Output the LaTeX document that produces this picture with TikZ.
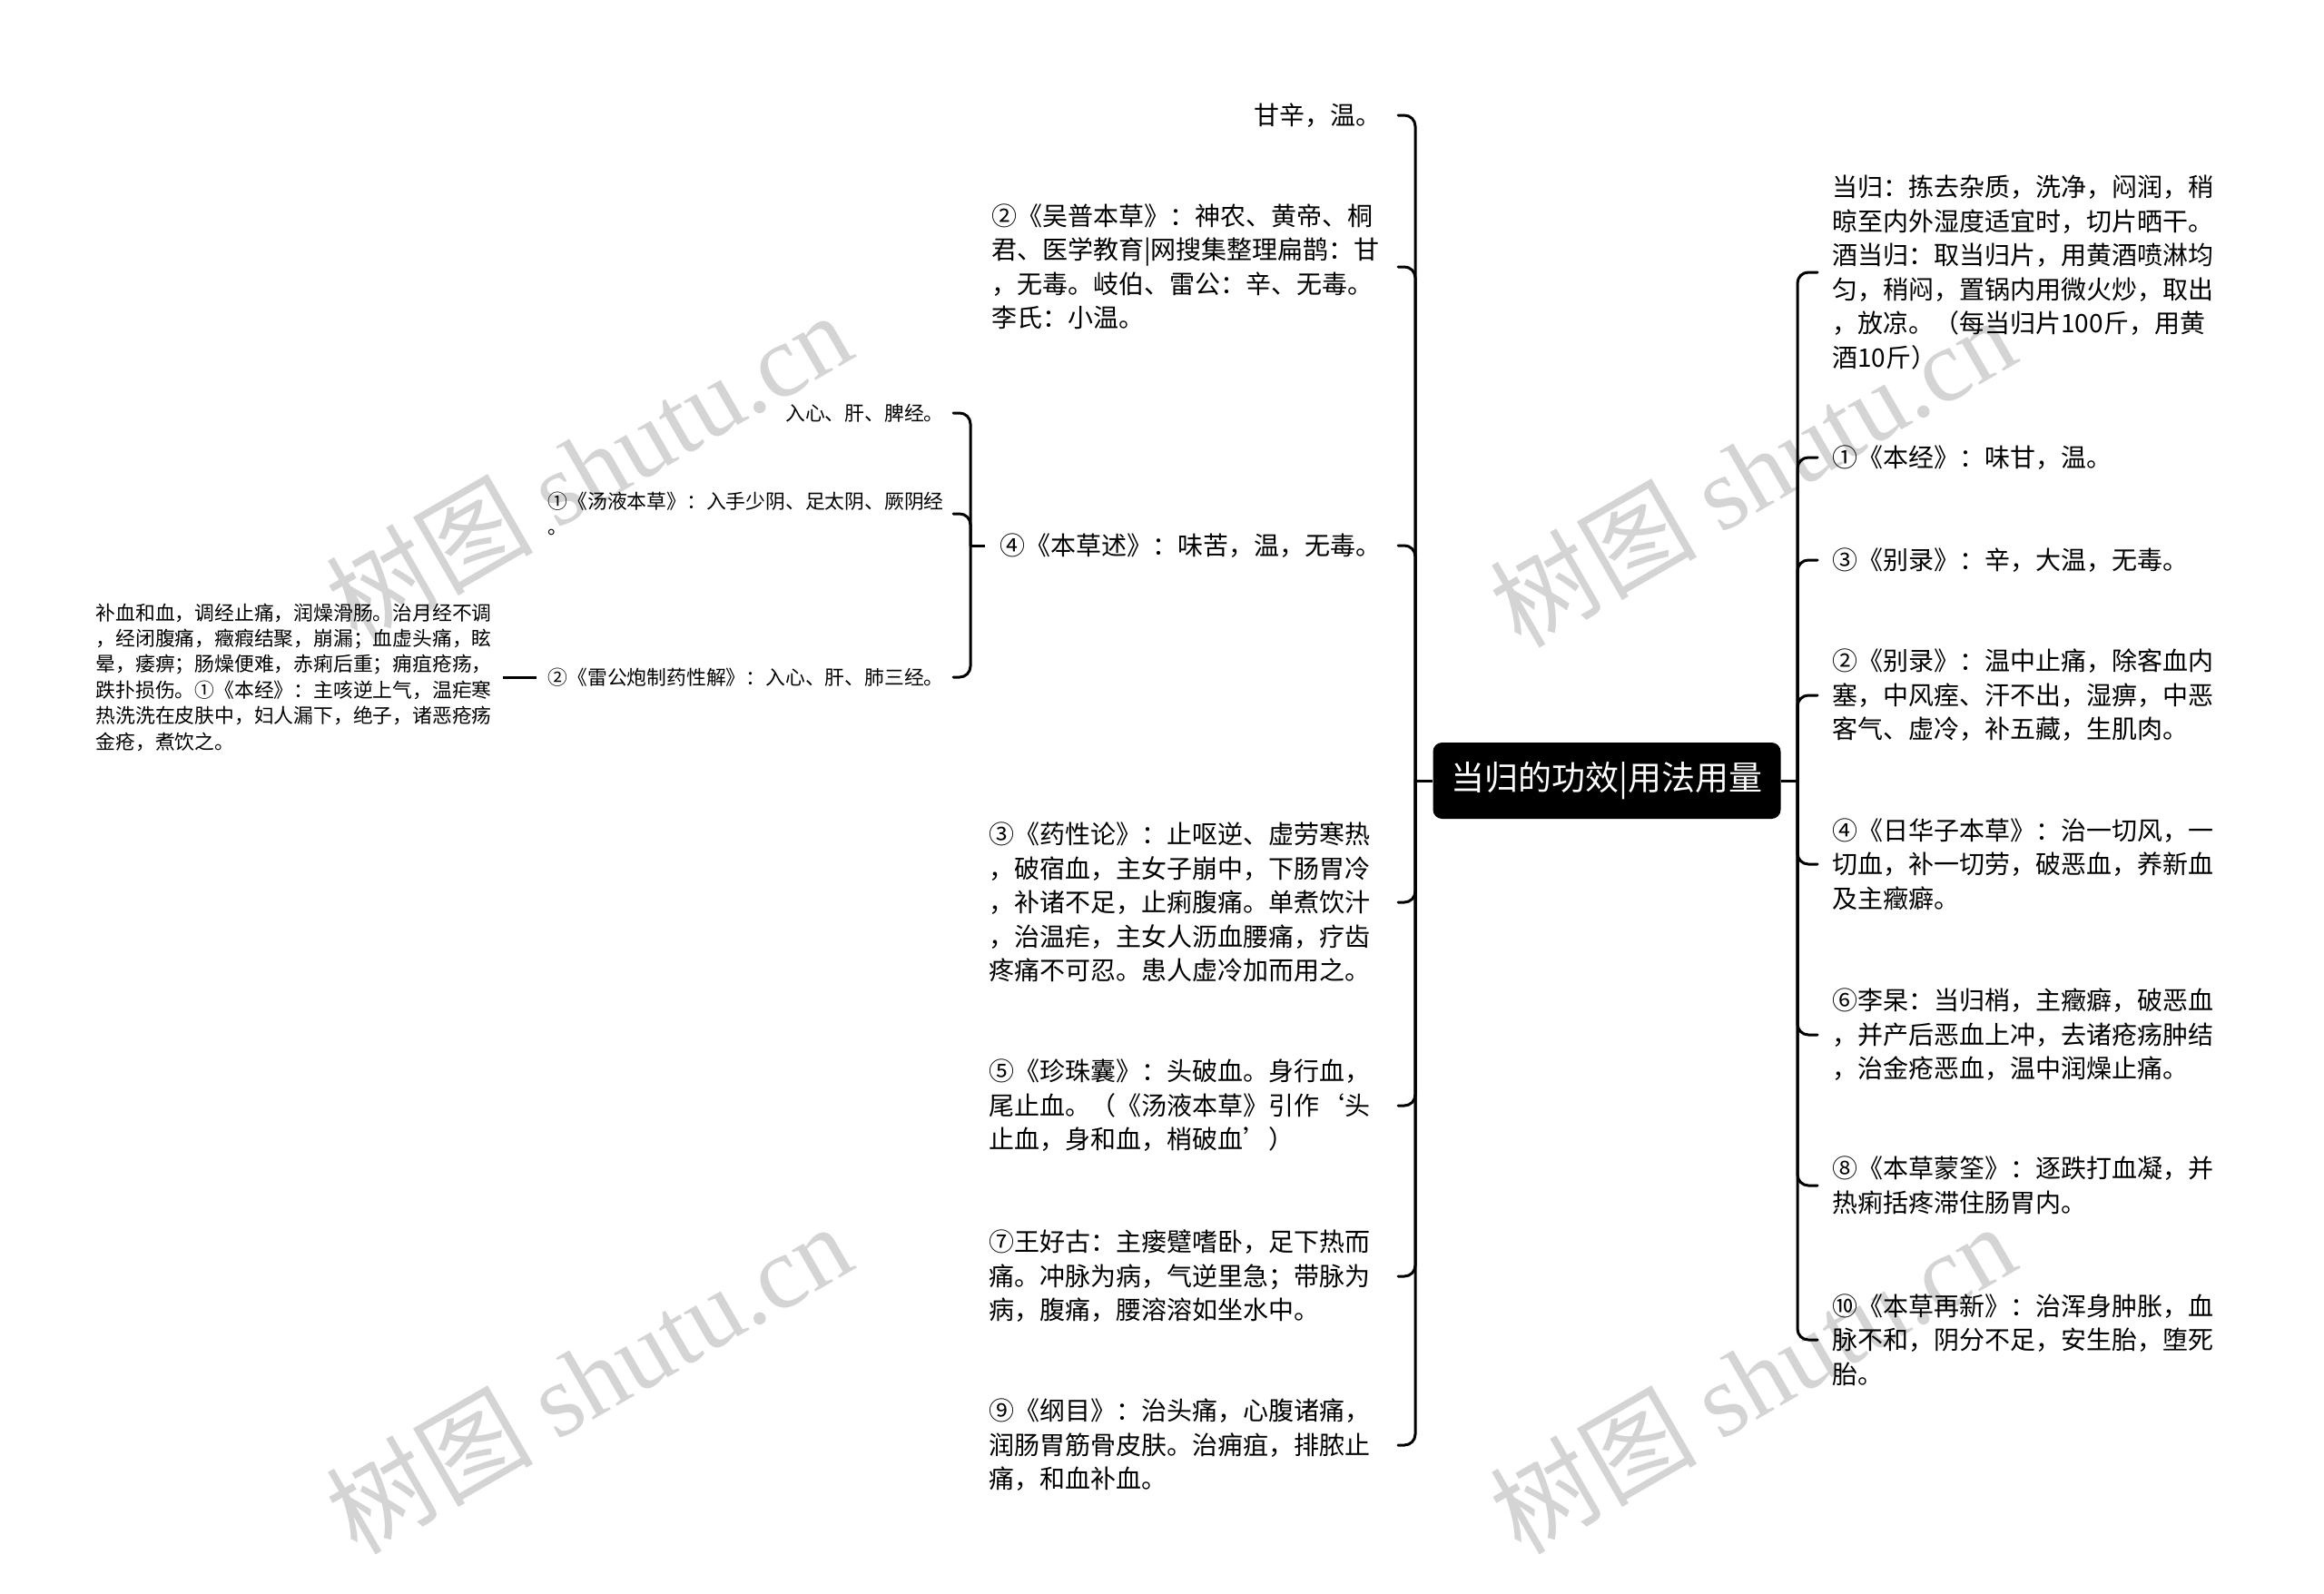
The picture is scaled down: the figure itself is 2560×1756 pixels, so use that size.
\documentclass[tikz,border=0pt]{standalone}
\usepackage{fontspec}
\setmainfont{Noto Sans CJK SC}
\newfontfamily\wmserif{Liberation Serif}
\newfontfamily\wmcjk{Noto Sans CJK SC}
\begin{document}
\begin{tikzpicture}[x=0.5pt,y=-0.5pt]
\tikzset{
  conn/.style={line width=1.5pt, rounded corners=6pt, line cap=round},
  straight/.style={line width=1.5pt},
  txtR/.style={anchor=west, inner sep=0pt, align=left, font=\fontsize{14pt}{18.75pt}\selectfont},
  txtM/.style={anchor=east, inner sep=0pt, align=left, font=\fontsize{14pt}{18.75pt}\selectfont},
  txtS/.style={anchor=east, inner sep=0pt, align=left, font=\fontsize{10.9pt}{14.2pt}\selectfont},
  rootbox/.style={fill=black, text=white, rounded corners=5pt, minimum width=191.5pt, minimum height=42pt, inner sep=0pt, font=\fontsize{18.5pt}{22pt}\selectfont},
  wm/.style={text=black!17, inner sep=0pt, rotate=30, font=\fontsize{57pt}{57pt}\selectfont}
}
\fill[white] (0,0) rectangle (2560,1756);
\useasboundingbox (0,0) rectangle (2560,1756);

% watermarks
\node[wm] (w1) at (648,514) {{\wmcjk 树图} {\wmserif shutu.cn}};
\node[wm] (w2) at (1930,519) {{\wmcjk 树图} {\wmserif shutu.cn}};
\node[wm] (w3) at (648,1518) {{\wmcjk 树图} {\wmserif shutu.cn}};
\node[wm] (w4) at (1930,1518) {{\wmcjk 树图} {\wmserif shutu.cn}};

% root
\node[rootbox] (c) at (1770,860) {当归的功效|用法用量};
\coordinate (rb) at (1980,860);
\coordinate (lb) at (1559,860);
\coordinate (ms) at (1540,0);

% right column
\node[txtR] (R1) at (2018,300) {当归：拣去杂质，洗净，闷润，稍\\晾至内外湿度适宜时，切片晒干。\\酒当归：取当归片，用黄酒喷淋均\\匀，稍闷，置锅内用微火炒，取出\\，放凉。（每当归片100斤，用黄\\酒10斤）};
\node[txtR] (R2) at (2018,504) {①《本经》：味甘，温。};
\node[txtR] (R3) at (2018,617) {③《别录》：辛，大温，无毒。};
\node[txtR] (R4) at (2018,766) {②《别录》：温中止痛，除客血内\\塞，中风痓、汗不出，湿痹，中恶\\客气、虚冷，补五藏，生肌肉。};
\node[txtR] (R5) at (2018,952) {④《日华子本草》：治一切风，一\\切血，补一切劳，破恶血，养新血\\及主癥癖。};
\node[txtR] (R6) at (2018,1140) {⑥李杲：当归梢，主癥癖，破恶血\\，并产后恶血上冲，去诸疮疡肿结\\，治金疮恶血，温中润燥止痛。};
\node[txtR] (R7) at (2018,1306) {⑧《本草蒙筌》：逐跌打血凝，并\\热痢括疼滞住肠胃内。};
\node[txtR] (R8) at (2018,1476) {⑩《本草再新》：治浑身肿胀，血\\脉不和，阴分不足，安生胎，堕死\\胎。};

% middle column
\node[txtM] (M1) at (1522,127) {甘辛，温。};
\node[txtM] (M2) at (1520,294) {②《吴普本草》：神农、黄帝、桐\\君、医学教育|网搜集整理扁鹊：甘\\，无毒。岐伯、雷公：辛、无毒。\\李氏：小温。};
\node[txtM] (M3) at (1522,601) {④《本草述》：味苦，温，无毒。};
\node[txtM] (M4) at (1510,994) {③《药性论》：止呕逆、虚劳寒热\\，破宿血，主女子崩中，下肠胃冷\\，补诸不足，止痢腹痛。单煮饮汁\\，治温疟，主女人沥血腰痛，疗齿\\疼痛不可忍。患人虚冷加而用之。};
\node[txtM] (M5) at (1510,1218) {⑤《珍珠囊》：头破血。身行血，\\尾止血。（《汤液本草》引作‘头\\止血，身和血，梢破血’）};
\node[txtM] (M6) at (1510,1406) {⑦王好古：主瘘躄嗜卧，足下热而\\痛。冲脉为病，气逆里急；带脉为\\病，腹痛，腰溶溶如坐水中。};
\node[txtM] (M7) at (1510,1592) {⑨《纲目》：治头痛，心腹诸痛，\\润肠胃筋骨皮肤。治痈疽，排脓止\\痛，和血补血。};

% level 2
\coordinate (lb2) at (1069,601);
\node[txtS] (L1) at (1040,455) {入心、肝、脾经。};
\node[txtS] (L2) at (1040,566) {①《汤液本草》：入手少阴、足太阴、厥阴经\\。};
\node[txtS] (L3) at (1040,746) {②《雷公炮制药性解》：入心、肝、肺三经。};
\node[txtS] (L4) at (542,746) {补血和血，调经止痛，润燥滑肠。治月经不调\\，经闭腹痛，癥瘕结聚，崩漏；血虚头痛，眩\\晕，痿痹；肠燥便难，赤痢后重；痈疽疮疡，\\跌扑损伤。①《本经》：主咳逆上气，温疟寒\\热洗洗在皮肤中，妇人漏下，绝子，诸恶疮疡\\金疮，煮饮之。};

% connectors
\draw[straight] (c.east) -- (rb);
\draw[straight] (c.west) -- (lb);
\foreach \n in {R1,R2,R3,R4,R5,R6,R7,R8}
  \draw[conn] (rb) |- ([xshift=-8pt]\n.west);
\foreach \n in {M1,M2,M3,M4,M5,M6,M7}
  \draw[conn] (lb) |- (\n.east -| ms);
\draw[straight] ([xshift=-8pt]M3.west) -- (lb2);
\foreach \n in {L1,L2,L3}
  \draw[conn] (lb2) |- ([xshift=5pt]\n.east);
\draw[straight] ([xshift=-6pt]L3.west) -- ([xshift=6pt]L4.east);
\end{tikzpicture}
\end{document}
